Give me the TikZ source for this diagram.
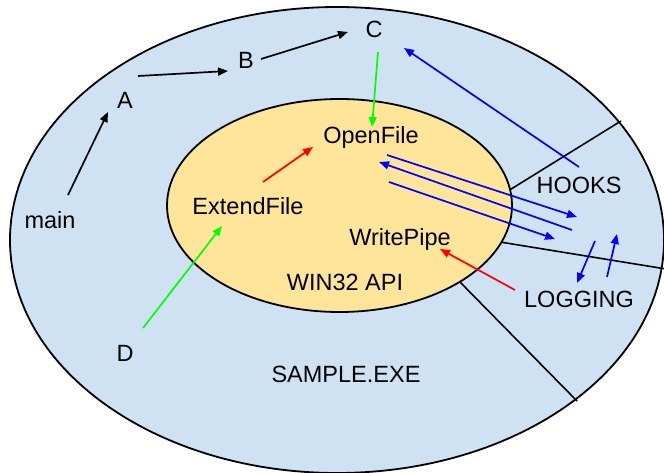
\documentclass[tikz,border=0pt]{standalone}
\usepackage{fontspec}
\setmainfont{Liberation Sans}
\usepackage{tikz}
\usetikzlibrary{arrows.meta}
\definecolor{exeblue}{HTML}{CFE2F3}
\definecolor{apiyellow}{HTML}{FFE599}
\definecolor{callgreen}{HTML}{00FF00}

\begin{document}
\begin{tikzpicture}[x=1pt,y=-1pt,every node/.style={font=\fontsize{23.5}{28}\selectfont}]
  \useasboundingbox (0,0) rectangle (664,473);
  \tikzstyle{Region}=[draw=black, line width=1.8pt]
  \tikzstyle{Border}=[black, line width=1.6pt]
  \tikzstyle{Call}=[-{Triangle[length=10pt,width=8pt]}, line width=1.7pt]

  % the process and the api inside it
  \filldraw[Region, fill=exeblue] (337,240) ellipse [x radius=327, y radius=233];
  \draw[Border] (508,191) -- (621,121);
  \draw[Border] (500,242) -- (666,269);
  \draw[Border] (458,280) -- (577,401);
  \filldraw[Region, fill=apiyellow] (339.5,205.5) ellipse [x radius=172.5, y radius=106.5];

  \node (main) at (50,220) {main};
  \node (A) at (125,100) {A};
  \node (B) at (246,60) {B};
  \node (C) at (374,29) {C};
  \node (D) at (125,353) {D};
  \node (OpenFile) at (371,137.5) {OpenFile};
  \node (ExtendFile) at (248,206) {ExtendFile};
  \node (WritePipe) at (400,239.5) {WritePipe};
  \node (API) at (345,282) {WIN32 API};
  \node (HOOKS) at (579,185) {HOOKS};
  \node (LOGGING) at (579,299) {LOGGING};
  \node (EXE) at (346,374) {SAMPLE.EXE};

  % call chain
  \draw[Call] ([shift={(18,-25)}]main.center) -- ([shift={(-17,12)}]A.center);
  \draw[Call] ([shift={(13,-24)}]A.center) -- ([shift={(-18,11)}]B.center);
  \draw[Call] ([shift={(15,-1)}]B.center) -- ([shift={(-26,3)}]C.center);
  \draw[Call, callgreen] ([shift={(4,23)}]C.center) -- ([shift={(1,-10.5)}]OpenFile.center);
  \draw[Call, callgreen] ([shift={(18,-25)}]D.center) -- ([shift={(-26,20)}]ExtendFile.center);
  \draw[Call, red] ([shift={(15,-24)}]ExtendFile.center) -- ([shift={(-58,9.5)}]OpenFile.center);
  \draw[Call, red] ([shift={(-64,-9)}]LOGGING.center) -- ([shift={(40,9.5)}]WritePipe.center);

  % hooks
  \draw[Call, blue] ([shift={(0,-18)}]HOOKS.center) -- ([shift={(30,19)}]C.center);
  \draw[Call, blue] ([shift={(16,17.5)}]OpenFile.center) -- ([shift={(-2,32)}]HOOKS.center);
  \draw[Call, blue] ([shift={(-7,45)}]HOOKS.center) -- ([shift={(8,24.5)}]OpenFile.center);
  \draw[Call, blue] ([shift={(18,44.5)}]OpenFile.center) -- ([shift={(-24,54)}]HOOKS.center);
  \draw[Call, blue] ([shift={(16,56)}]HOOKS.center) -- ([shift={(-2,-16)}]LOGGING.center);
  \draw[Call, blue] ([shift={(28,-22)}]LOGGING.center) -- ([shift={(38,49)}]HOOKS.center);

\end{tikzpicture}
\end{document}
